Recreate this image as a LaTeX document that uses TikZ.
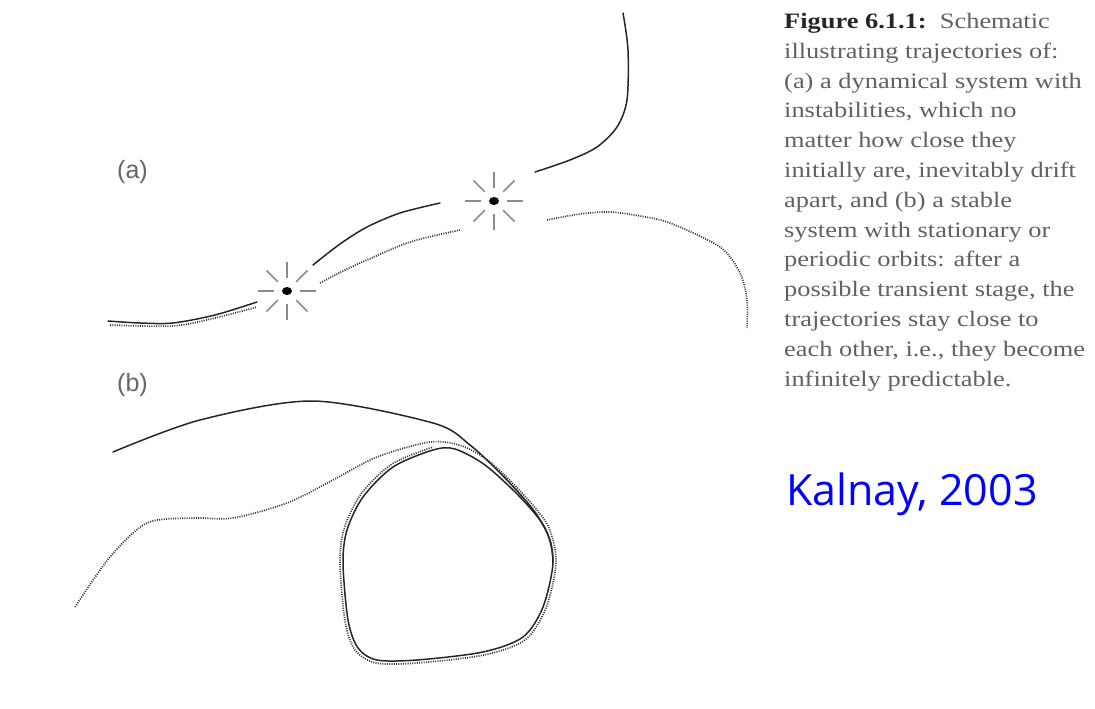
\documentclass[tikz,border=0pt]{standalone}
\usepackage{fontspec}
\setmainfont[FakeStretch=1.2]{Liberation Serif}
\newfontfamily\labelfont{Liberation Sans}
\newfontfamily\creditfont{Open Sans}
\usetikzlibrary{calc,shapes.geometric}

\begin{document}
\begin{tikzpicture}[
  x=1pt, y=-1pt,
  traj/.style={line width=1.5pt, black!85, line cap=round},
  pert/.style={line width=1.7pt, black!80, dash pattern=on 1pt off 1.3pt},
  ray/.style={line width=1.6pt, black!45},
  blob/.style={ellipse, fill=black, inner sep=0pt, minimum width=10pt, minimum height=8pt},
  panel/.style={font=\labelfont\fontsize{25}{25}\selectfont, text=black!60, anchor=base west, inner sep=0pt}
]
\useasboundingbox (0,0) rectangle (1095,709);

% panel labels
\node[panel] (la) at (117,178) {(a)};
\node[panel] (lb) at (117,391) {(b)};

% (a): unstable system
\node[blob] (s1) at (287,291) {};
\node[blob] (s2) at (494,201) {};
\foreach \s in {s1,s2}
  \foreach \a in {0,45,...,315}
    \draw[ray] ($(\s)+(\a:13)$) -- ($(\s)+(\a:29)$);

\draw[traj] plot[smooth] coordinates {(108,321) (140,323) (173,323) (215,315) (257,302)};
\draw[pert] plot[smooth] coordinates {(110,325) (173,326) (215,318) (257,307)};
\draw[traj] plot[smooth] coordinates {(313,265) (340,244) (367,227) (400,213) (440,203)};
\draw[pert] plot[smooth] coordinates {(320,283) (345,270) (367,260) (410,242) (460,230)};
\draw[traj] plot[smooth] coordinates {(535,172) (570,160) (597,147) (617,127) (627,100) (628,50) (623,13)};
\draw[pert] plot[smooth] coordinates {(547,220) (580,214) (610,212) (640,216) (670,223) (720,247) (740,273) (747,300) (747,328)};

% (b): stable system
\draw[traj] plot[smooth] coordinates {(113,452) (200,420) (313,401) (433,423) (470,445) (505,478) (535,512) (550,540) (553,562)};
\draw[traj] plot[smooth cycle] coordinates {(553,562) (543,607) (523,637) (483,652) (417,660) (377,660) (358,648) (348,620) (343,563) (347,530) (363,497) (393,467) (433,450) (455,449) (485,465) (520,497) (545,528)};
\draw[pert] plot[smooth] coordinates {(75,607) (110,557) (147,523) (193,518) (233,518) (287,503) (333,480) (377,457) (430,442) (462,446) (490,462) (523,494) (548,526) (556,562) (546,608) (525,640) (484,655) (417,663) (376,663) (355,650) (345,621) (340,563) (344,529) (361,494) (392,464) (433,447)};

% caption
\node[anchor=north west, align=left, inner sep=0pt, text=black!62,
      font=\fontsize{22}{29.8}\selectfont] (caption) at (784,13)
  {{\color{black!85}\textbf{Figure 6.1.1:}}\ \ Schematic\\
   illustrating trajectories of:\\
   (a) a dynamical system with\\
   instabilities, which no\\
   matter how close they\\
   initially are, inevitably drift\\
   apart, and (b) a stable\\
   system with stationary or\\
   periodic orbits: after a\\
   possible transient stage, the\\
   trajectories stay close to\\
   each other, i.e., they become\\
   infinitely predictable.};

\node[anchor=base west, inner sep=0pt, text=blue,
      font=\creditfont\fontsize{43}{43}\selectfont] (credit) at (786,505) {Kalnay, 2003};
\end{tikzpicture}
\end{document}
